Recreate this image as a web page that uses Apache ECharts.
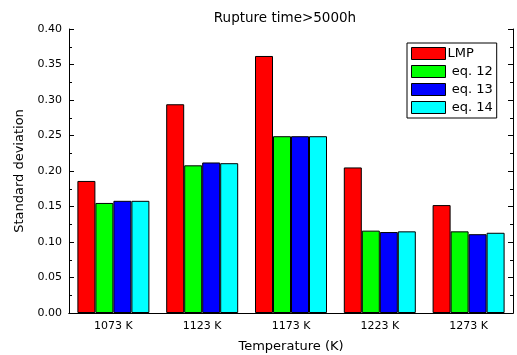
<!DOCTYPE html>
<html>
<head>
<meta charset="utf-8">
<script src="https://cdn.jsdelivr.net/npm/echarts@6/dist/echarts.min.js"></script>
<style>
  html, body { margin: 0; padding: 0; background: #fff; }
  #chart { width: 517px; height: 355px; }
</style>
</head>
<body>
<div id="chart"></div>
<script>
const temps = ["1073 K", "1123 K", "1173 K", "1223 K", "1273 K"];
const lmp = [0.186, 0.294, 0.362, 0.205, 0.152];
const eq12 = [0.155, 0.208, 0.249, 0.116, 0.115];
const eq13 = [0.158, 0.212, 0.249, 0.114, 0.111];
const eq14 = [0.158, 0.211, 0.249, 0.115, 0.113];
const seriesNames = ["LMP", "eq. 12", "eq. 13", "eq. 14"];
const colors = ["#ff0000", "#00ff00", "#0000ff", "#00ffff"];

const font = "DejaVu Sans, Arial, sans-serif";
const chart = echarts.init(document.getElementById("chart"));

const bars = [lmp, eq12, eq13, eq14].map((d, i) => ({
  name: seriesNames[i],
  type: "bar",
  data: d,
  barWidth: 18,
  barGap: "0%",
  itemStyle: { color: colors[i], borderColor: "#000", borderWidth: 1 },
}));

chart.setOption({
  animation: false,
  backgroundColor: "#fff",
  title: {
    text: "Rupture time>5000h",
    left: 280,
    textAlign: "center",
    top: 6,
    textStyle: { fontFamily: font, fontSize: 13.5, fontWeight: "normal", color: "#000" },
  },
  legend: {
    orient: "vertical",
    left: 407,
    top: 43,
    itemWidth: 34,
    itemHeight: 12,
    itemGap: 5,
    padding: [4, 4, 4, 4],
    borderColor: "#000",
    borderWidth: 1,
    backgroundColor: "#fff",
    icon: "rect",
    formatter: (n) => (n === "LMP" ? n : " " + n),
    textStyle: { fontFamily: font, fontSize: 13, color: "#000", padding: [0, 0, 0, -3] },
    itemStyle: { borderColor: "#000", borderWidth: 1 },
    data: seriesNames,
  },
  grid: { left: 69, right: 4, top: 29, bottom: 42, outerBoundsMode: "none" },
  xAxis: [
    {
      type: "category",
      data: temps,
      name: "Temperature (K)",
      nameLocation: "middle",
      nameGap: 27,
      nameTextStyle: { fontFamily: font, fontSize: 13, color: "#000" },
      axisLine: { lineStyle: { color: "#000", width: 1 } },
      axisTick: { inside: true, length: 4, lineStyle: { color: "#000" } },
      axisLabel: { fontFamily: font, fontSize: 11, color: "#000", margin: 8 },
    },
    {
      type: "category",
      position: "top",
      data: ["", "", "", "", "", "", "", "", "", ""],
      axisLine: { lineStyle: { color: "#000", width: 1 } },
      axisTick: { inside: true, length: 5, lineStyle: { color: "#000" } },
      axisLabel: { show: false },
    },
  ],
  yAxis: [
    {
      type: "value",
      min: 0,
      max: 0.4,
      interval: 0.05,
      name: "Standard deviation",
      nameLocation: "middle",
      nameGap: 42,
      nameTextStyle: { fontFamily: font, fontSize: 13, color: "#000" },
      axisLine: { show: true, lineStyle: { color: "#000", width: 1 } },
      axisTick: { show: true, inside: true, length: 5, lineStyle: { color: "#000" } },
      minorTick: { show: true, splitNumber: 2, length: 3, lineStyle: { color: "#000" } },
      splitLine: { show: false },
      axisLabel: { fontFamily: font, fontSize: 11, color: "#000", margin: 7, formatter: (v) => v.toFixed(2) },
    },
    {
      type: "value",
      position: "right",
      min: 0,
      max: 0.4,
      interval: 0.05,
      axisLine: { show: true, lineStyle: { color: "#000", width: 1 } },
      axisTick: { show: true, inside: true, length: 5, lineStyle: { color: "#000" } },
      minorTick: { show: true, splitNumber: 2, length: 3, lineStyle: { color: "#000" } },
      splitLine: { show: false },
      axisLabel: { show: false },
    },
  ],
  series: bars,
});
</script>
</body>
</html>
